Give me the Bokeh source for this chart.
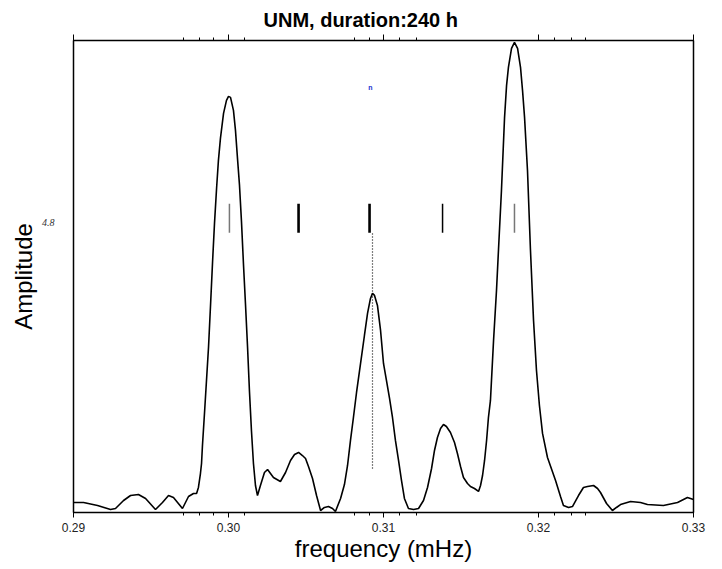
import math
from bokeh.plotting import figure
from bokeh.models import LinearAxis, FixedTicker, Label, Range1d, ColumnDataSource, Title
from bokeh.embed import file_html
from bokeh.resources import INLINE

# ---- data ----
freq = [0.29000, 0.29065, 0.29155, 0.29239, 0.29271, 0.29323, 0.29368, 0.29419, 0.29465, 0.29529,
        0.29574, 0.29613, 0.29645, 0.29703, 0.29742, 0.29774, 0.29794, 0.29806, 0.29819, 0.29826,
        0.29832, 0.29845, 0.29858, 0.29871, 0.29884, 0.29897, 0.29910, 0.29923, 0.29935, 0.29948,
        0.29968, 0.29987, 0.30000, 0.30013, 0.30032, 0.30045, 0.30058, 0.30071, 0.30084, 0.30097,
        0.30110, 0.30123, 0.30135, 0.30148, 0.30161, 0.30174, 0.30187, 0.30206, 0.30232, 0.30252,
        0.30290, 0.30335, 0.30368, 0.30400, 0.30426, 0.30452, 0.30477, 0.30497, 0.30516, 0.30542,
        0.30568, 0.30594, 0.30619, 0.30645, 0.30671, 0.30690, 0.30723, 0.30748, 0.30768, 0.30787,
        0.30806, 0.30826, 0.30852, 0.30877, 0.30897, 0.30916, 0.30929, 0.30942, 0.30961, 0.30981,
        0.31000, 0.31019, 0.31039, 0.31058, 0.31077, 0.31097, 0.31116, 0.31135, 0.31161, 0.31194,
        0.31226, 0.31258, 0.31284, 0.31310, 0.31329, 0.31348, 0.31368, 0.31387, 0.31406, 0.31432,
        0.31458, 0.31477, 0.31497, 0.31516, 0.31542, 0.31561, 0.31587, 0.31613, 0.31626, 0.31639,
        0.31652, 0.31665, 0.31677, 0.31690, 0.31710, 0.31729, 0.31742, 0.31761, 0.31781, 0.31794,
        0.31806, 0.31826, 0.31845, 0.31865, 0.31884, 0.31897, 0.31910, 0.31929, 0.31948, 0.31968,
        0.31987, 0.32006, 0.32026, 0.32058, 0.32110, 0.32142, 0.32161, 0.32194, 0.32219, 0.32258,
        0.32290, 0.32316, 0.32355, 0.32381, 0.32400, 0.32439, 0.32477, 0.32503, 0.32529, 0.32594,
        0.32658, 0.32703, 0.32806, 0.32897, 0.32961, 0.33000]
amplitude = [0.166, 0.166, 0.116, 0.050, 0.066, 0.199, 0.281, 0.298, 0.232, 0.050,
             0.166, 0.281, 0.248, 0.066, 0.265, 0.314, 0.314, 0.414, 0.645, 0.811,
             1.109, 1.639, 2.185, 2.731, 3.426, 4.138, 4.800, 5.362, 5.826, 6.190,
             6.604, 6.819, 6.885, 6.869, 6.653, 6.322, 5.859, 5.412, 4.800, 4.088,
             3.426, 2.731, 2.019, 1.357, 0.811, 0.447, 0.281, 0.447, 0.662, 0.712,
             0.579, 0.513, 0.662, 0.861, 0.960, 0.993, 0.943, 0.894, 0.761, 0.563,
             0.281, 0.033, 0.083, 0.099, 0.066, 0.017, 0.232, 0.463, 0.778, 1.192,
             1.572, 1.986, 2.466, 2.929, 3.294, 3.542, 3.625, 3.592, 3.426, 3.012,
             2.466, 2.185, 1.887, 1.572, 1.192, 0.861, 0.530, 0.232, 0.066, 0.050,
             0.066, 0.199, 0.414, 0.728, 1.026, 1.241, 1.390, 1.456, 1.423, 1.324,
             1.159, 0.976, 0.761, 0.579, 0.480, 0.430, 0.397, 0.348, 0.447, 0.612,
             0.861, 1.192, 1.572, 1.854, 2.847, 3.674, 4.353, 5.329, 6.538, 7.067,
             7.365, 7.680, 7.779, 7.680, 7.365, 6.984, 6.538, 5.660, 4.353, 3.178,
             2.350, 1.771, 1.308, 0.910, 0.530, 0.265, 0.116, 0.083, 0.099, 0.281,
             0.414, 0.430, 0.447, 0.397, 0.331, 0.149, 0.033, 0.083, 0.132, 0.182,
             0.166, 0.132, 0.116, 0.166, 0.248, 0.215]

marker_freq = [0.30006, 0.30452, 0.30910, 0.31381, 0.31845]
marker_low = [4.63, 4.63, 4.63, 4.63, 4.63]
marker_high = [5.11, 5.11, 5.11, 5.11, 5.11]
guide_freq = 0.30929
guide_low = 0.73
guide_high = 4.63
tag_freq = 0.30916
tag_amp = 7.03

x_major = [0.29, 0.30, 0.31, 0.32, 0.33]
x_labels = ["0.29", "0.30", "0.31", "0.32", "0.33"]
x_minor = [0.2971, 0.2981, 0.2990, 0.3010, 0.3081, 0.3091, 0.3110, 0.3121, 0.3210, 0.3221, 0.3230]
y_ticks = [4.8]

title_text = "UNM, duration:240 h"
xlabel_text = "frequency (mHz)"
ylabel_text = "Amplitude"
tag_text = "n"

# ---- styles ----
marker_colors = ["#777777", "black", "black", "black", "#777777"]
marker_widths = [1.5, 2.6, 2.6, 1.5, 1.5]

X0, X1 = 0.29, 0.33
Y0, Y1 = 0.0, 7.81

font = "Liberation Sans"

p = figure(width=722, height=569, output_backend="svg", toolbar_location=None,
           x_range=Range1d(X0, X1), y_range=Range1d(Y0, Y1),
           x_axis_location=None, y_axis_location=None,
           min_border_left=73, min_border_right=29, min_border_top=40, min_border_bottom=57,
           background_fill_color="white", border_fill_color="white")
p.xgrid.visible = False
p.ygrid.visible = False
p.outline_line_color = "black"
p.outline_line_width = 1.5

# bottom axis
xb = LinearAxis(ticker=FixedTicker(ticks=x_major, minor_ticks=x_minor))
xb.major_label_overrides = {t: l for t, l in zip(x_major, x_labels)}
xb.major_tick_out = 5
xb.major_tick_in = 0
xb.minor_tick_out = 3
xb.minor_tick_in = 0
xb.axis_line_color = "black"
xb.major_label_standoff = 5
xb.major_label_text_font = font
xb.major_label_text_font_size = "12px"
xb.major_label_text_color = "#222222"
xb.axis_label = xlabel_text
xb.axis_label_standoff = 0
xb.axis_label_text_font = font
xb.axis_label_text_font_style = "normal"
xb.axis_label_text_font_size = "24px"
xb.axis_label_text_color = "black"
p.add_layout(xb, "below")

# top axis (ticks only)
xt = LinearAxis(ticker=FixedTicker(ticks=x_major, minor_ticks=x_minor))
xt.major_label_overrides = {t: "" for t in x_major}
xt.major_tick_out = 6
xt.major_tick_in = 0
xt.minor_tick_out = 3
xt.minor_tick_in = 0
xt.axis_line_color = "black"
xt.major_label_standoff = 0
xt.major_label_text_font_size = "1px"
p.add_layout(xt, "above")

# left axis (single label)
yl = LinearAxis(ticker=FixedTicker(ticks=y_ticks, minor_ticks=[]))
yl.major_tick_out = 0
yl.major_tick_in = 0
yl.minor_tick_out = 0
yl.axis_line_color = "black"
yl.major_label_standoff = 19
yl.major_label_text_font = "Liberation Serif"
yl.major_label_text_font_style = "italic"
yl.major_label_text_font_size = "10px"
yl.major_label_text_color = "#333333"
yl.major_label_orientation = "horizontal"
yl.axis_label = ylabel_text
yl.axis_label_standoff = 2
yl.axis_label_text_font = font
yl.axis_label_text_font_style = "normal"
yl.axis_label_text_font_size = "24px"
yl.axis_label_text_color = "black"
p.add_layout(yl, "left")

# title
t = Title(text=title_text, align="left", offset=190, standoff=7,
          text_font=font, text_font_style="bold", text_font_size="20px", text_color="black")
p.add_layout(t, "above")

# curve
p.line(freq, amplitude, line_color="black", line_width=1.6)

# marker segments
src = ColumnDataSource(dict(x=marker_freq, y0=marker_low, y1=marker_high,
                            c=marker_colors, w=marker_widths))
p.segment(x0="x", y0="y0", x1="x", y1="y1", line_color="c", line_width="w", source=src)

# dotted guide
p.segment(x0=[guide_freq], y0=[guide_low], x1=[guide_freq], y1=[guide_high],
          line_color="black", line_width=1.2, line_dash="1 2")

p.add_layout(Label(x=tag_freq, y=tag_amp, text=tag_text, text_color="#2030d0",
                   text_font=font, text_font_style="bold", text_font_size="7px",
                   text_align="center", text_baseline="middle"))

open("out.html", "w").write(file_html(p, INLINE))
